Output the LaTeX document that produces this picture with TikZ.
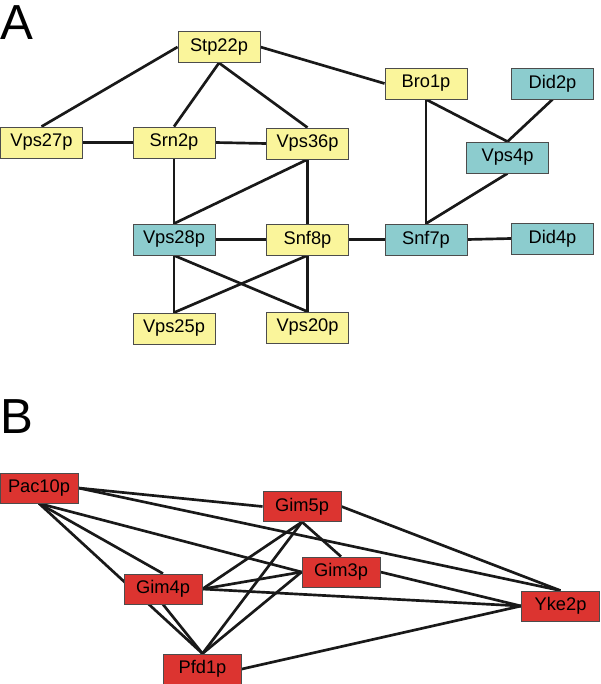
\documentclass[tikz,border=0pt]{standalone}
\usepackage{fontspec}
\setmainfont{Liberation Sans}
\usepackage{xcolor}
\usepackage{tikz}
\definecolor{boxyel}{RGB}{250,245,155}
\definecolor{boxcyn}{RGB}{140,204,206}
\definecolor{boxred}{RGB}{220,52,48}
\pgfdeclarelayer{edges}
\pgfsetlayers{edges,main}
\tikzset{
  prot/.style={draw=black!70, line width=0.6pt, minimum width=2.05cm, minimum height=0.775cm, inner sep=0pt, font=\fontsize{13}{15}\selectfont},
  yel/.style={prot, fill=boxyel},
  cyn/.style={prot, fill=boxcyn},
  rd/.style={prot, fill=boxred, minimum width=1.95cm, minimum height=0.75cm},
  link/.style={line width=1.9pt, black!90},
  panel/.style={inner sep=0pt, anchor=north west, font=\fontsize{35}{35}\selectfont}
}

\begin{document}
\begin{tikzpicture}[x=0.025cm, y=-0.025cm]
\useasboundingbox (0,0) rectangle (600,684);
\node[panel] (LabelA) at (0,5) {A};
\node[panel] (LabelB) at (0,399) {B};
% panel A
\node[yel] (Stp22p) at (219,47) {Stp22p};
\node[yel] (Vps27p) at (41.5,142.5) {Vps27p};
\node[yel] (Srn2p) at (174,142.5) {Srn2p};
\node[yel] (Vps36p) at (307.5,143.5) {Vps36p};
\node[yel] (Bro1p) at (426,83.5) {Bro1p};
\node[cyn] (Did2p) at (552.5,83.5) {Did2p};
\node[cyn] (Vps4p) at (507.5,157.5) {Vps4p};
\node[cyn] (Vps28p) at (174,239.5) {Vps28p};
\node[yel] (Snf8p) at (307.5,239.5) {Snf8p};
\node[cyn] (Snf7p) at (426,239.5) {Snf7p};
\node[cyn] (Did4p) at (552.5,238.5) {Did4p};
\node[yel] (Vps25p) at (174,328.5) {Vps25p};
\node[yel] (Vps20p) at (307.5,327.5) {Vps20p};
% panel B
\node[rd] (Pac10p) at (39,488) {Pac10p};
\node[rd] (Gim5p) at (302,506.5) {Gim5p};
\node[rd] (Gim3p) at (341,572) {Gim3p};
\node[rd] (Gim4p) at (163,589) {Gim4p};
\node[rd] (Pfd1p) at (202.5,669) {Pfd1p};
\node[rd] (Yke2p) at (560.5,606) {Yke2p};
\begin{pgfonlayer}{edges}
\foreach \a/\b in {Stp22p.west/Vps27p.north, Stp22p.south/Srn2p.north, Stp22p.south/Vps36p.north,
  Stp22p.east/Bro1p.west, Vps27p.east/Srn2p.west, Srn2p.east/Vps36p.west,
  Srn2p.south/Vps28p.north, Vps36p.south/Vps28p.north, Vps36p.south/Snf8p.north,
  Vps28p.east/Snf8p.west, Snf8p.east/Snf7p.west, Snf7p.east/Did4p.west,
  Bro1p.south/Snf7p.north, Bro1p.south/Vps4p.north, Did2p.south/Vps4p.north,
  Vps4p.south/Snf7p.north, Vps28p.south/Vps25p.north, Vps28p.south/Vps20p.north,
  Snf8p.south/Vps25p.north, Snf8p.south/Vps20p.north}
  \draw[link] (\a) -- (\b);
\foreach \a/\b in {Pac10p.east/Gim5p.west, Pac10p.east/Yke2p.north, Pac10p.south/Gim3p.west,
  Pac10p.south/Gim4p.north, Pac10p.south/Pfd1p.north, Gim5p.east/Yke2p.north,
  Gim5p.south/Gim3p.north, Gim5p.south/Gim4p.east, Gim5p.south/Pfd1p.north,
  Gim3p.west/Gim4p.east, Gim3p.west/Pfd1p.north, Gim3p.east/Yke2p.west,
  Gim4p.east/Yke2p.west, Gim4p.south/Pfd1p.north, Pfd1p.east/Yke2p.west}
  \draw[link] (\a) -- (\b);
\end{pgfonlayer}
\end{tikzpicture}
\end{document}
